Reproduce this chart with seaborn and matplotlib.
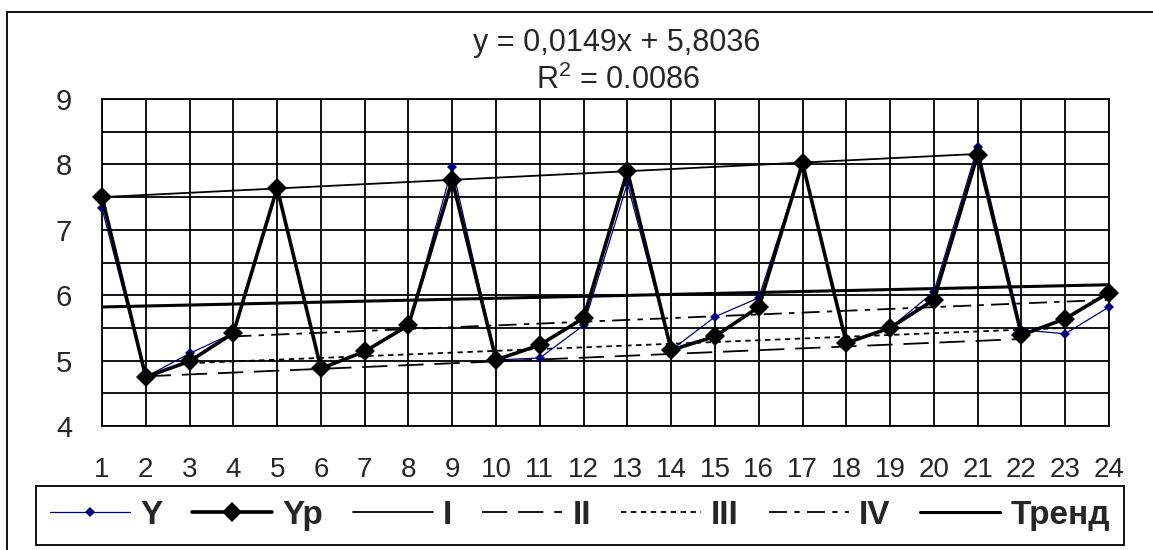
import matplotlib
matplotlib.use("Agg")
import matplotlib.pyplot as plt
from matplotlib.lines import Line2D
import pandas as pd
import seaborn as sns

# ---------------- data ----------------
periods = list(range(1, 25))
y_actual = [7.33, 4.75, 5.11, 5.42, 7.65, 4.88, 5.14, 5.54, 7.96, 5.01, 5.04, 5.54,
            7.71, 5.16, 5.67, 5.96, 8.02, 5.26, 5.50, 6.05, 8.27, 5.47, 5.41, 5.82]
y_model = [7.50, 4.75, 4.99, 5.42, 7.64, 4.88, 5.14, 5.54, 7.76, 5.01, 5.24, 5.65,
           7.90, 5.16, 5.37, 5.82, 8.02, 5.27, 5.50, 5.93, 8.15, 5.39, 5.64, 6.04]
# quarterly trend lines: (x_start, x_end), (y_start, y_end)
q_names = ["I", "II", "III", "IV"]
q_x = [(1, 21), (2, 22), (3, 23), (4, 24)]
q_y = [(7.50, 8.16), (4.76, 5.33), (4.96, 5.50), (5.37, 5.93)]
trend_x = [1, 24]
trend_y = [5.82, 6.16]
eq_text = "y = 0,0149x + 5,8036"
r2_text = "R$^2$ = 0.0086"
y_ticks = [4, 5, 6, 7, 8, 9]

# ---------------- style ----------------
sns.set_style("white")
plt.rcParams["font.family"] = ["Liberation Sans", "DejaVu Sans"]
plt.rcParams["mathtext.fontset"] = "custom"
plt.rcParams["mathtext.rm"] = "Liberation Sans"

W, H = 1153, 550
fig = plt.figure(figsize=(W / 100, H / 100), dpi=100)
fig.patch.set_facecolor("white")

ax = fig.add_axes([102 / W, 1 - 426 / H, (1109 - 102) / W, (426 - 99) / H])

df = pd.DataFrame({"t": periods, "Y": y_actual, "Yp": y_model})

sns.lineplot(data=df, x="t", y="Y", ax=ax, color="#000080", lw=0.9,
             marker="D", markersize=5, markeredgewidth=0, label="Y", zorder=3,
             clip_on=False)
sns.lineplot(data=df, x="t", y="Yp", ax=ax, color="black", lw=2.6,
             marker="D", markersize=10.5, markeredgewidth=0, label="Yp", zorder=4,
             clip_on=False)

q_styles = ["-", (0, (14, 6)), (0, (3, 2.5)), (0, (10, 4, 3, 4))]
for name, xs, ys, ls in zip(q_names, q_x, q_y, q_styles):
    qdf = pd.DataFrame({"t": list(xs), "v": list(ys)})
    sns.lineplot(data=qdf, x="t", y="v", ax=ax, color="black", lw=1.3,
                 linestyle=ls, label=name, zorder=2)

tdf = pd.DataFrame({"t": trend_x, "v": trend_y})
sns.lineplot(data=tdf, x="t", y="v", ax=ax, color="black", lw=2.2,
             label="Тренд", zorder=2)

# axes
ax.set_xlim(1, 24)
ax.set_ylim(4, 9)
ax.set_xticks(periods)
ax.set_xticklabels([str(p) for p in periods])
ax.set_yticks(y_ticks)
ax.set_yticks([v + 0.5 for v in y_ticks[:-1]], minor=True)
ax.grid(True, which="major", color="black", lw=1.3)
ax.grid(True, which="minor", axis="y", color="black", lw=1.3)
ax.set_axisbelow(True)
ax.tick_params(axis="both", which="both", length=0)
ax.tick_params(axis="y", pad=21.5, labelsize=21)
ax.tick_params(axis="x", pad=22, labelsize=20)
ax.set_xlabel("")
ax.set_ylabel("")
for s in ax.spines.values():
    s.set_color("black")
    s.set_linewidth(1.3)

# legend
handles, labels = ax.get_legend_handles_labels()
ax.get_legend().remove()
leg = fig.legend(handles, labels, loc="upper left",
                 bbox_to_anchor=(36 / W, 0, (1124 - 36) / W, 1 - 486 / H),
                 mode="expand", ncol=7, frameon=True, fancybox=False,
                 edgecolor="black", framealpha=1, borderaxespad=0,
                 prop={"size": 24, "weight": "bold"}, handlelength=2.4,
                 handletextpad=0.3, borderpad=0.42, numpoints=1)
leg.get_frame().set_linewidth(1.3)

# equation text
fig.text(617 / W, 1 - 43 / H, eq_text, ha="center", va="center", fontsize=22)
fig.text(618 / W, 1 - 80 / H, r2_text, ha="center", va="center", fontsize=22)

# outer chart border
fig.add_artist(Line2D([7 / W, 1.0], [1 - 12 / H, 1 - 12 / H], color="black", lw=1.3,
                      transform=fig.transFigure))
fig.add_artist(Line2D([7 / W, 7 / W], [1 - 12 / H, 0.0], color="black", lw=1.3,
                      transform=fig.transFigure))

fig.savefig("out.png", dpi=100)
